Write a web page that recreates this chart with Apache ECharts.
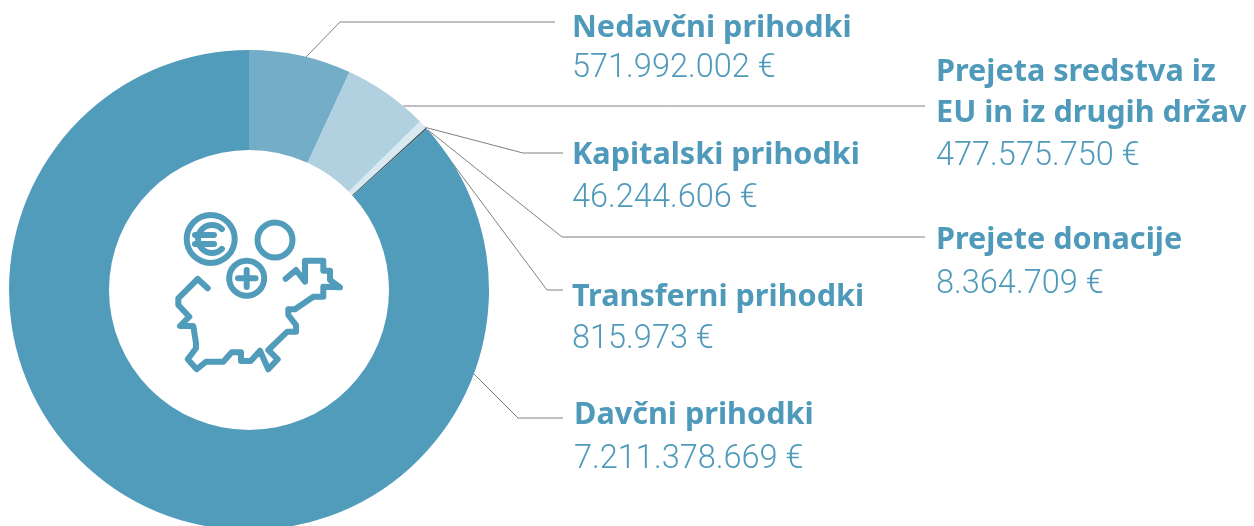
<!DOCTYPE html>
<html>
<head>
<meta charset="utf-8">
<style>html,body{margin:0;padding:0;background:#fff}#main{width:1254px;height:526px}</style>
<script src="https://cdn.jsdelivr.net/npm/echarts@6/dist/echarts.min.js"></script>
</head>
<body>
<div id="main"></div>
<script>
const names = ['Nedavčni prihodki', 'Prejeta sredstva iz\nEU in iz drugih držav', 'Kapitalski prihodki', 'Prejete donacije', 'Transferni prihodki', 'Davčni prihodki']
const amounts = [571992002, 477575750, 46244606, 8364709, 815973, 7211378669]
const amountLabels = ['571.992.002 €', '477.575.750 €', '46.244.606 €', '8.364.709 €', '815.973 €', '7.211.378.669 €']
const colors = ['#74adc8', '#b1d0e0', '#d9e9f0', '#3d5a66', '#222c32', '#519cba']

// label corner and leader line for each slice
const labelPos = [[572, 8], [936, 52], [572, 135], [936, 220], [572, 277], [574, 395]]
const valueLineHeights = [40, 46, 46, 47, 43, 47]
const leaders = [
  [[306, 57], [340, 22], [555, 22]],
  [[403, 106], [404, 106], [925, 106]],
  [[424, 127], [523, 153], [563, 153]],
  [[428, 130], [562, 237], [925, 237]],
  [[430, 133], [547, 290], [563, 290]],
  [[473, 373], [518, 418], [563, 418]]
]

const textColor = '#4f9aba'
const iconStyle = { stroke: '#519cba', fill: 'none', lineWidth: 6, lineCap: 'round', lineJoin: 'round' }

const mapLine = [[207.7,288.3],[197.7,279],[178.3,298.3],[178.3,305],[189.3,316.7],[180,326],[193.3,326],[196,343.3],[196,348.3],[187.7,359.3],[196.7,369.3],[206,361.7],[223.3,361.7],[231.7,352.3],[241,352.3],[241,361],[250.7,361],[260,350.7],[268.3,369.3],[277.7,359.3],[268.3,350],[287.3,331.7],[296,331.7],[296,325],[288.3,315],[288.3,309.3],[295,309.3],[313.3,296.7],[323.3,296.7],[323.3,286.7],[340,287.3],[330,280],[330,270.7],[323.3,270.7],[323.3,260.7],[305,260.7],[305,281.7],[296,270],[285.7,278.7]]

const nameStyle = { fontFamily: 'Noto Sans', fontWeight: 700, fontSize: 30.6, lineHeight: 41, color: textColor }
const valueStyle = { fontFamily: 'Roboto', fontWeight: 300, fontSize: 32.5, color: textColor }

const option = {
  animation: false,
  series: [{
    type: 'pie',
    center: [249, 290],
    radius: [140, 240],
    startAngle: 90,
    avoidLabelOverlap: false,
    minShowLabelAngle: 0,
    data: names.map((n, i) => ({
      name: n,
      value: amounts[i],
      itemStyle: { color: colors[i] },
      label: { rich: { n: nameStyle, v: { ...valueStyle, lineHeight: valueLineHeights[i] } } }
    })),
    label: {
      show: true,
      position: 'outside',
      alignTo: 'none',
      formatter: p => p.name.split('\n').map(s => '{n|' + s + '}').join('\n') + '\n{v|' + amountLabels[p.dataIndex] + '}'
    },
    labelLine: { show: true, lineStyle: { color: '#808080', width: 1 } },
    labelLayout: p => ({
      x: labelPos[p.dataIndex][0],
      y: labelPos[p.dataIndex][1],
      align: 'left',
      verticalAlign: 'top',
      labelLinePoints: leaders[p.dataIndex]
    }),
    emphasis: { disabled: true }
  }],
  graphic: [
    { type: 'circle', shape: { cx: 210.7, cy: 239, r: 24 }, style: iconStyle },
    { type: 'circle', shape: { cx: 275, cy: 240, r: 17.5 }, style: iconStyle },
    { type: 'circle', shape: { cx: 246.7, cy: 278.3, r: 17.5 }, style: iconStyle },
    { type: 'polyline', shape: { points: [[238, 278.3], [255.5, 278.3]] }, style: iconStyle },
    { type: 'polyline', shape: { points: [[246.7, 270], [246.7, 287]] }, style: iconStyle },
    { type: 'arc', shape: { cx: 212, cy: 239, r: 14, startAngle: Math.PI / 4, endAngle: Math.PI * 7 / 4, clockwise: true }, style: iconStyle },
    { type: 'polyline', shape: { points: [[195, 235], [214, 235]] }, style: iconStyle },
    { type: 'polyline', shape: { points: [[195, 244], [214, 244]] }, style: iconStyle },
    { type: 'polyline', shape: { points: mapLine }, style: iconStyle }
  ]
}

const chart = echarts.init(document.getElementById('main'), null, { renderer: 'canvas' })
chart.setOption(option)
</script>
</body>
</html>
